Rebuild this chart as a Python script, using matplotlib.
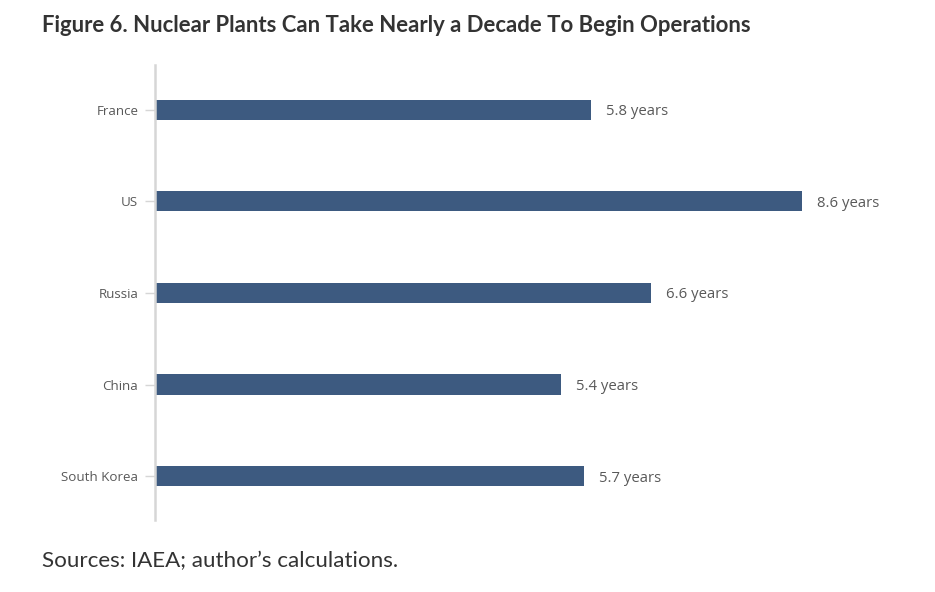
import matplotlib
matplotlib.use("Agg")
import matplotlib.pyplot as plt

countries = ["France", "US", "Russia", "China", "South Korea"]
years = [5.8, 8.6, 6.6, 5.4, 5.7]

BAR_COLOR = "#3d5a80"
AXIS_GRAY = "#d6d6d6"
TEXT_GRAY = "#595959"

fig = plt.figure(figsize=(9.35, 5.92), dpi=100)
ax = fig.add_axes([155 / 935, 1 - 520 / 592, 752 / 935, 455 / 592])

pos = list(range(len(countries)))
ax.barh(pos, years, height=0.22, color=BAR_COLOR)
for y, v in zip(pos, years):
    ax.text(v + 0.2, y, f"{v} years", va="center_baseline", ha="left",
            fontsize=10.7, color=TEXT_GRAY, family="Open Sans")

ax.set_xlim(0, 10)
ax.set_ylim(4.48, -0.49)
ax.set_yticks(pos)
ax.set_yticklabels(countries, fontsize=9.6, color=TEXT_GRAY, family="Open Sans")
for lbl in ax.get_yticklabels():
    lbl.set_verticalalignment("center_baseline")
ax.tick_params(axis="y", length=7, width=1, color=AXIS_GRAY, pad=5)
ax.set_xticks([])
for side in ["top", "right", "bottom"]:
    ax.spines[side].set_visible(False)
ax.spines["left"].set_color(AXIS_GRAY)
ax.spines["left"].set_linewidth(1.8)

fig.text(42 / 935, 1 - 26 / 592, "Figure 6. Nuclear Plants Can Take Nearly a Decade To Begin Operations",
         fontsize=15.9, fontweight="bold", color="#333333", family="Lato", va="center", ha="left")
fig.text(42 / 935, 1 - 561 / 592, "Sources: IAEA; author\u2019s calculations.",
         fontsize=16.1, color="#333333", family="Lato", va="center", ha="left")

fig.savefig("out.png", dpi=100)
